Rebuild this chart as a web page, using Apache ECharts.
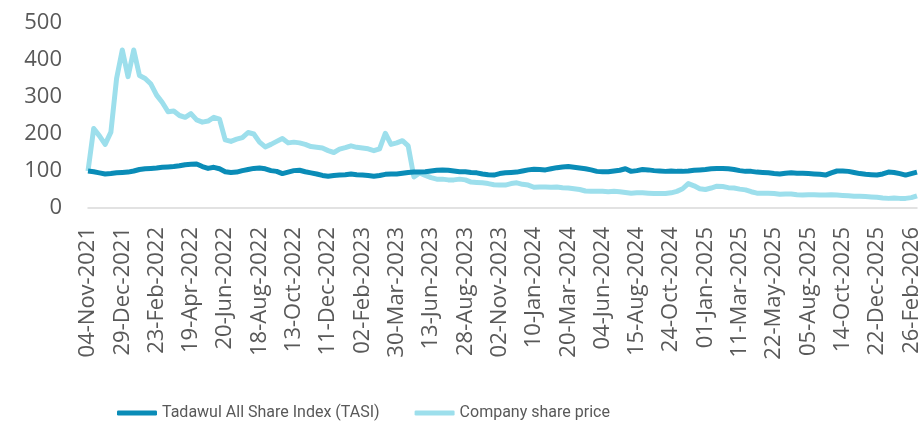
<!DOCTYPE html>
<html>
<head>
<meta charset="utf-8">
<script src="https://cdn.jsdelivr.net/npm/echarts@6/dist/echarts.min.js"></script>
<style>
    html, body {margin: 0; padding: 0; background: #fff;}
    #main {width: 923px; height: 425px;}
</style>
</head>
<body>
<div id="main"></div>
<script>
    'use strict';

    // tick labels on the x axis, one every 6 points
    var tickLabels = ['04-Nov-2021', '29-Dec-2021', '23-Feb-2022', '19-Apr-2022', '20-Jun-2022',
        '18-Aug-2022', '13-Oct-2022', '11-Dec-2022', '02-Feb-2023', '30-Mar-2023', '13-Jun-2023',
        '28-Aug-2023', '02-Nov-2023', '10-Jan-2024', '20-Mar-2024', '04-Jun-2024', '15-Aug-2024',
        '24-Oct-2024', '01-Jan-2025', '11-Mar-2025', '22-May-2025', '05-Aug-2025', '14-Oct-2025',
        '22-Dec-2025', '26-Feb-2026'];
    var labelStep = 6;

    var tasi = [100, 98, 95, 92, 93, 95, 96, 97, 100, 104, 106, 107, 108, 110, 111, 112, 114, 117, 118, 119,
        112, 107, 110, 106, 98, 96, 97, 101, 104, 107, 108, 106, 101, 99, 93, 97, 101, 102, 98, 95,
        92, 88, 86, 88, 89, 90, 92, 90, 89, 88, 86, 88, 91, 92, 92, 94, 96, 97, 97, 98,
        100, 102, 103, 102, 100, 98, 98, 96, 95, 92, 90, 89, 93, 95, 96, 97, 100, 103, 105, 104,
        103, 106, 109, 111, 112, 110, 108, 106, 103, 99, 98, 98, 100, 102, 106, 99, 101, 104, 103, 101,
        100, 99, 100, 99, 99, 100, 102, 103, 104, 106, 107, 107, 106, 104, 101, 99, 99, 97, 96, 95,
        93, 92, 94, 95, 94, 94, 93, 92, 91, 89, 95, 100, 100, 99, 96, 93, 91, 90, 89, 92,
        97, 96, 93, 89, 93, 97];

    var company = [100, 215, 195, 172, 205, 350, 427, 355, 427, 358, 350, 335, 305, 285, 260, 262, 250, 245, 255, 238,
        232, 235, 245, 240, 184, 180, 186, 190, 204, 200, 178, 165, 172, 180, 188, 176, 178, 176, 172, 166,
        164, 162, 155, 150, 159, 163, 168, 164, 162, 160, 155, 160, 202, 172, 176, 182, 168, 84, 95, 88,
        82, 78, 78, 76, 76, 78, 76, 70, 69, 68, 66, 63, 62, 62, 66, 68, 64, 62, 56, 57,
        57, 56, 57, 55, 54, 52, 50, 46, 45, 45, 45, 44, 45, 44, 42, 40, 41, 41, 40, 39,
        39, 39, 41, 45, 52, 66, 60, 52, 50, 54, 59, 58, 55, 54, 51, 49, 44, 40, 40, 40,
        39, 37, 38, 38, 36, 35, 36, 36, 35, 35, 36, 35, 34, 33, 32, 32, 31, 30, 29, 27,
        26, 27, 26, 26, 28, 33];

    var categories = [];
    for (var i = 0; i < tasi.length; i++) {
        categories.push(i % labelStep === 0 ? tickLabels[i / labelStep] : 'p' + i);
    }

    var myChart = echarts.init(document.getElementById('main'));
    var option = {
        animation: false,
        backgroundColor: '#fff',
        textStyle: {fontFamily: 'Open Sans', color: '#595959'},
        grid: {left: 88, right: 6, top: 23, bottom: 217, containLabel: false},
        legend: {
            left: 112,
            top: 400,
            itemWidth: 40,
            itemHeight: 5,
            itemGap: 35,
            icon: 'roundRect',
            textStyle: {fontFamily: 'Roboto', fontSize: 16, color: '#595959'},
            data: ['Tadawul All Share Index (TASI)', 'Company share price']
        },
        xAxis: {
            type: 'category',
            data: categories,
            boundaryGap: false,
            axisLine: {lineStyle: {color: '#d9d9d9', width: 1.5}},
            axisTick: {show: false},
            axisLabel: {
                interval: labelStep - 1,
                rotate: 90,
                margin: 19,
                fontSize: 22,
                color: '#595959'
            },
            splitLine: {show: false}
        },
        yAxis: {
            type: 'value',
            min: 0,
            max: 500,
            interval: 100,
            axisLine: {show: false},
            axisTick: {show: false},
            splitLine: {show: false},
            axisLabel: {margin: 26, fontSize: 22, color: '#595959'}
        },
        series: [
            {
                name: 'Tadawul All Share Index (TASI)',
                type: 'line',
                data: tasi,
                symbol: 'none',
                z: 3,
                itemStyle: {color: '#0a8cb7'},
                lineStyle: {color: '#0a8cb7', width: 5, join: 'round'}
            },
            {
                name: 'Company share price',
                type: 'line',
                data: company,
                symbol: 'none',
                z: 2,
                itemStyle: {color: '#9ddfec'},
                lineStyle: {color: '#9ddfec', width: 5, join: 'round'}
            }
        ]
    };
    myChart.setOption(option);
</script>
</body>
</html>
